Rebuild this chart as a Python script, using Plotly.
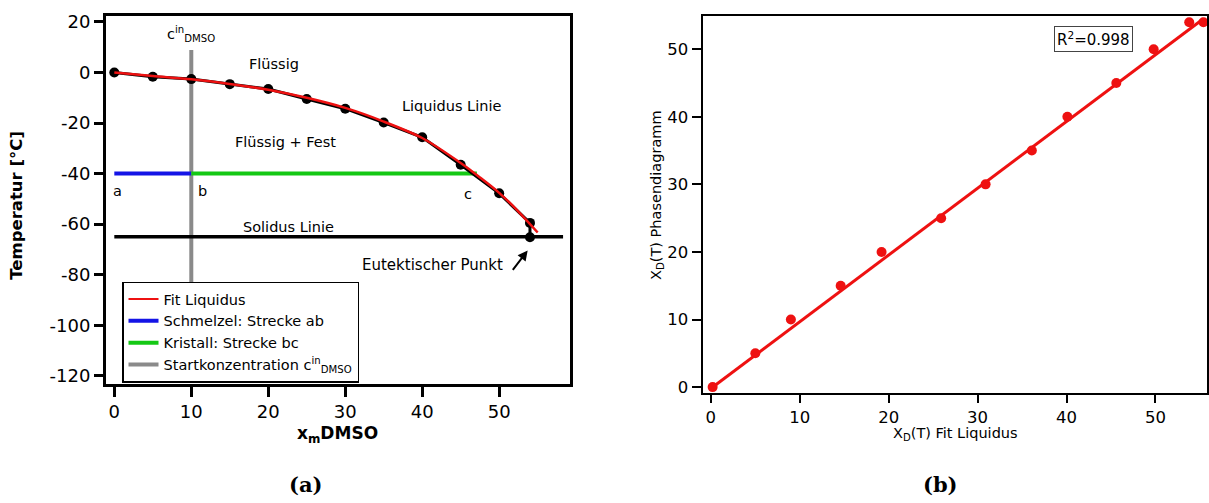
import plotly.graph_objects as go

# ---------------- data: panel (a) ----------------
x_meas = [0, 5, 10, 15, 20, 25, 30, 35, 40, 45, 50, 54, 54]
t_meas = [0, -1.7, -2.6, -4.6, -6.5, -10.5, -14.3, -19.8, -25.6, -36.5, -47.8, -59.5, -65.2]

x_fit = [0, 5, 10, 15, 20, 25, 30, 35, 40, 45, 47.5, 50, 52.5, 55]
t_fit = [0, -1.4, -2.7, -4.5, -6.8, -10.0, -14.0, -19.4, -25.9, -35.8, -41.5, -47.6, -55.0, -63.3]

ab_x = [0, 10]
ab_t = [-40, -40]
bc_x = [10, 47.1]
bc_t = [-40, -40]
start_x = [10, 10]
start_t = [-86, 8.9]
solidus_x = [0, 58.3]
solidus_t = [-65, -65]

t_ticks = [20, 0, -20, -40, -60, -80, -100, -120]
t_ticklabels = ["20", "0", "-20", "-40", "-60", "-80", "-100", "-120"]

# ---------------- data: panel (b) ----------------
xd_fit = [0.2, 5.0, 9.0, 14.6, 19.2, 25.9, 30.9, 36.1, 40.1, 45.6, 49.8, 53.8, 55.4]
xd_phase = [0, 5, 10, 15, 20, 25, 30, 35, 40, 45, 50, 54, 54]
lin_x = [0, 55.4]
lin_y = [-0.2, 54.5]

FONT = "DejaVu Sans"

fig = go.Figure()

# panel (a)
fig.add_trace(go.Scatter(x=start_x, y=start_t, mode="lines",
                         line=dict(color="#8a8a8a", width=4),
                         xaxis="x", yaxis="y", showlegend=False))
fig.add_trace(go.Scatter(x=solidus_x, y=solidus_t, mode="lines",
                         line=dict(color="black", width=3.5),
                         showlegend=False, xaxis="x", yaxis="y"))
fig.add_trace(go.Scatter(x=ab_x, y=ab_t, mode="lines",
                         line=dict(color="#1414e6", width=4),
                         showlegend=False, xaxis="x", yaxis="y"))
fig.add_trace(go.Scatter(x=bc_x, y=bc_t, mode="lines",
                         line=dict(color="#14c814", width=4),
                         showlegend=False, xaxis="x", yaxis="y"))
fig.add_trace(go.Scatter(x=x_meas, y=t_meas, mode="lines+markers",
                         line=dict(color="black", width=3),
                         marker=dict(color="black", size=10),
                         showlegend=False, xaxis="x", yaxis="y"))
fig.add_trace(go.Scatter(x=x_fit, y=t_fit, mode="lines",
                         line=dict(color="#ee1111", width=2.5, shape="spline", smoothing=0.8),
                         showlegend=False, xaxis="x", yaxis="y"))

# legend-only entries (drawn in legend order)
for nm, col, w in [("Fit Liquidus", "#ee1111", 2),
                   ("Schmelzel: Strecke ab", "#1414e6", 4),
                   ("Kristall: Strecke bc", "#14c814", 4),
                   ("Startkonzentration c<sup>in</sup><sub>DMSO</sub>", "#8a8a8a", 4)]:
    fig.add_trace(go.Scatter(x=[None], y=[None], mode="lines",
                             line=dict(color=col, width=w), name=nm,
                             xaxis="x", yaxis="y", showlegend=True))

# panel (b)
fig.add_trace(go.Scatter(x=lin_x, y=lin_y, mode="lines",
                         line=dict(color="#ee1111", width=3),
                         showlegend=False, xaxis="x2", yaxis="y2"))
fig.add_trace(go.Scatter(x=xd_fit, y=xd_phase, mode="markers",
                         marker=dict(color="#ee1111", size=10),
                         showlegend=False, xaxis="x2", yaxis="y2"))

W, H = 1209, 503
def px(v): return v / W
def py(v): return 1 - v / H

axis_common = dict(showgrid=False, zeroline=False, showline=True, mirror=True,
                   linecolor="black", ticks="outside", tickcolor="black")

fig.update_layout(
    width=W, height=H, autosize=False,
    margin=dict(l=0, r=0, t=0, b=0),
    paper_bgcolor="white", plot_bgcolor="white",
    font=dict(family=FONT, color="black"),
    xaxis=dict(domain=[px(106), px(570)], range=[-1.08, 59.2], dtick=10, tick0=0,
               linewidth=3, ticklen=10, tickwidth=2.5,
               tickfont=dict(size=18, family=FONT), anchor="y", **axis_common),
    yaxis=dict(domain=[py(386), py(12)], range=[-123.2, 22.45],
               tickvals=t_ticks, ticktext=t_ticklabels,
               linewidth=3, ticklen=9, tickwidth=2.5,
               tickfont=dict(size=18, family=FONT), anchor="x", **axis_common),
    xaxis2=dict(domain=[px(702.5), px(1207)], range=[-0.94, 55.8], dtick=10, tick0=0,
                linewidth=2, ticklen=8, tickwidth=1.5,
                tickfont=dict(size=16.5, family=FONT), anchor="y2", **axis_common),
    yaxis2=dict(domain=[py(395), py(12.3)], range=[-0.83, 54.9], dtick=10, tick0=0,
                linewidth=2, ticklen=9, tickwidth=1.5,
                tickfont=dict(size=16.5, family=FONT), anchor="x2", **axis_common),
    legend=dict(x=px(122), y=py(282), xanchor="left", yanchor="top",
                bgcolor="white", bordercolor="black", borderwidth=1.5,
                font=dict(size=14.5, family=FONT), itemwidth=30,
                tracegroupgap=0),
    showlegend=True,
)

ann = []
def atext(x, y, t, size=14.5, **kw):
    d = dict(x=x, y=y, xref="x", yref="y", text=t, showarrow=False,
             xanchor="center", yanchor="middle",
             font=dict(size=size, family=FONT, color="black"))
    d.update(kw)
    ann.append(d)

atext(20.7, 3.2, "Flüssig")
atext(43.8, -13.1, "Liquidus Linie")
atext(22.2, -27.5, "Flüssig + Fest")
atext(22.6, -61.0, "Solidus Linie")
atext(0.35, -47, "a")
atext(11.5, -47, "b")
atext(45.9, -48.2, "c")
atext(41.4, -76.2, "Eutektischer Punkt", size=15)
atext(10.0, 15.3, "c<sup>in</sup><sub>DMSO</sub>", size=14.5)

# arrow to eutectic point
ann.append(dict(x=53.7, y=-70.4, xref="x", yref="y", ax=-16, ay=21,
                showarrow=True, arrowhead=2, arrowsize=1, arrowwidth=2,
                arrowcolor="black", text=""))

def ptext(x, y, t, size, family=FONT, **kw):
    d = dict(x=px(x), y=py(y), xref="paper", yref="paper", text=t,
             showarrow=False, xanchor="center", yanchor="middle",
             font=dict(size=size, family=family, color="black"))
    d.update(kw)
    ann.append(d)

# axis titles
ptext(17, 205, "<b>Temperatur [°C]</b>", 16.5, textangle=-90)
ptext(338, 437, "<b>x<sub>m</sub>DMSO</b>", 17)
ptext(657, 195, "X<sub>D</sub>(T) Phasendiagramm", 14.5, textangle=-90)
ptext(955, 437, "X<sub>D</sub>(T) Fit Liquidus", 14.5)

# R^2 box
ptext(1093.5, 36, "R<sup>2</sup>=0.998", 15, bordercolor="#444", borderwidth=1,
      borderpad=2, bgcolor="white")

# captions
ptext(305, 488, "<b>(a)</b>", 21, family="DejaVu Serif")
ptext(940, 488, "<b>(b)</b>", 21, family="DejaVu Serif")

fig.update_layout(annotations=ann)

fig.write_html("out.html")
